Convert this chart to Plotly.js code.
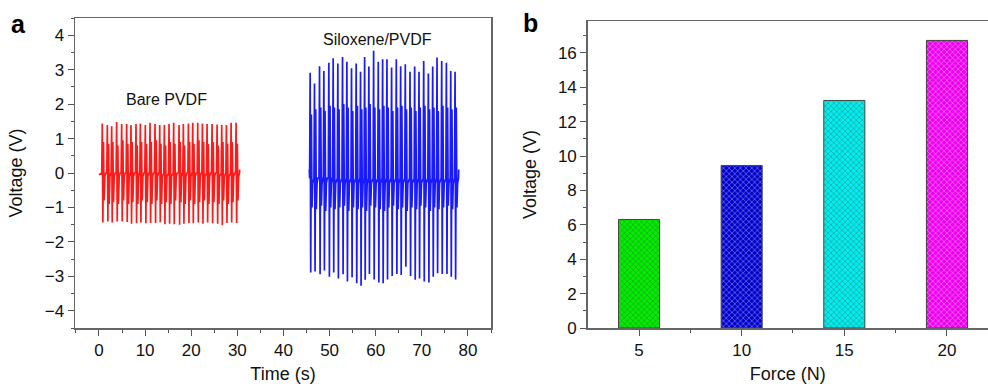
<!DOCTYPE html>
<html>
<head>
<meta charset="utf-8">
<script src="https://cdn.plot.ly/plotly-3.0.1.min.js"></script>
<style>html,body{margin:0;padding:0;background:#fff;}#chart{width:988px;height:384px;}</style>
</head>
<body>
<div id="chart"></div>
<script>
// ---- Panel a: voltage signals (peak times and peak voltages) ----
const redPeakTimes = [0.72,1.81,2.75,3.83,4.92,6.00,6.94,8.03,8.97,10.05,11.07,12.15,13.17,14.18,15.19,16.20,17.36,18.30,19.39,20.33,21.41,22.43,23.44,24.52,25.61,26.62,27.63,28.65,29.73];
const redPosPeaks = [1.44,1.39,1.36,1.48,1.42,1.42,1.39,1.42,1.44,1.39,1.46,1.42,1.39,1.39,1.42,1.46,1.39,1.42,1.44,1.46,1.46,1.44,1.42,1.42,1.41,1.39,1.39,1.46,1.46];
const redNegPeaks = [-1.44,-1.41,-1.44,-1.41,-1.41,-1.42,-1.47,-1.46,-1.44,-1.46,-1.45,-1.45,-1.43,-1.49,-1.47,-1.49,-1.50,-1.47,-1.45,-1.46,-1.44,-1.47,-1.44,-1.46,-1.47,-1.52,-1.45,-1.44,-1.45];
const redSecPos = [0.9,0.85,0.9,0.8,0.95,0.85,0.9,0.8,0.9,0.85,0.9,0.95,0.85,0.8,0.9,0.85,0.9,0.8,0.9,0.85,0.95,0.9,0.85,0.9,0.8,0.9,0.85,0.9,0.85];
const redSecNeg = [-0.8,-0.9,-0.85,-0.9,-0.8,-0.9,-0.85,-0.9,-0.8,-0.85,-0.9,-0.8,-0.9,-0.85,-0.9,-0.8,-0.85,-0.9,-0.8,-0.9,-0.85,-0.8,-0.9,-0.85,-0.9,-0.8,-0.9,-0.85,-0.8];
const redBase = [0.0, -0.1];
const redStart = [0.0, -0.05];
const redEnd = [30.5, 0.1];

const bluePeakTimes = [45.79,46.73,47.82,48.76,49.84,50.78,51.79,52.81,53.75,54.76,55.77,56.71,57.60,58.52,59.55,60.56,61.50,62.44,63.45,64.47,65.41,66.42,67.44,68.45,69.39,70.41,71.42,72.36,73.30,74.31,75.33,76.27,77.21];
const bluePosPeaks = [2.91,2.60,3.10,2.96,3.20,3.33,3.18,3.37,3.23,3.04,3.18,2.94,3.37,3.09,3.55,3.23,3.30,3.30,3.06,3.30,3.10,3.16,2.94,3.09,2.94,3.25,2.89,3.09,3.35,3.25,3.20,2.96,2.94];
const blueNegPeaks = [-2.89,-2.86,-2.94,-2.83,-3.01,-2.89,-3.06,-2.94,-3.15,-3.03,-3.20,-3.27,-3.10,-2.93,-3.09,-3.18,-3.20,-3.09,-2.99,-2.93,-2.96,-2.72,-2.99,-3.10,-3.06,-3.15,-3.18,-3.01,-2.91,-2.93,-2.93,-3.01,-3.09];
const blueSecPos = [1.7,1.85,1.9,1.8,1.95,1.9,1.85,2.0,1.9,1.8,1.95,1.85,1.9,2.0,1.9,1.85,1.95,1.9,1.8,1.9,1.95,1.85,1.9,1.8,1.9,1.95,1.85,1.9,1.8,1.95,1.9,1.85,1.9];
const blueSecNeg = [-1.0,-1.05,-0.95,-1.1,-1.0,-1.05,-1.0,-0.95,-1.1,-1.0,-1.05,-1.0,-1.1,-0.95,-1.0,-1.05,-1.1,-1.0,-0.95,-1.05,-1.0,-1.1,-1.0,-1.05,-0.95,-1.0,-1.1,-1.0,-1.05,-1.0,-0.95,-1.05,-1.0];
const blueBase = [-0.15, -0.3];
const blueStart = [45.6, 0.1];
const blueEnd = [78.0, 0.1];

// ---- Panel b: bar chart ----
const forces = [5, 10, 15, 20];
const forceVoltages = [6.31, 9.45, 13.23, 16.72];
const barColors = ['#00ee00', '#0000cc', '#00eeee', '#ee00ee'];
const barHatch = ['#007000', '#000060', '#008080', '#800080'];

function buildWave(start, end, times, pos, neg, sp, sn, base) {
  const x = [start[0]], y = [start[1]];
  for (let i = 0; i < times.length; i++) {
    const t = times[i];
    x.push(t - 0.12, t, t + 0.12, t + 0.26, t + 0.40, t + 0.55, t + 0.75);
    y.push(base[0], pos[i], neg[i], sp[i], sn[i], base[1], base[0]);
  }
  x.push(end[0]); y.push(end[1]);
  return {x, y};
}

const red = buildWave(redStart, redEnd, redPeakTimes, redPosPeaks, redNegPeaks, redSecPos, redSecNeg, redBase);
const blue = buildWave(blueStart, blueEnd, bluePeakTimes, bluePosPeaks, blueNegPeaks, blueSecPos, blueSecNeg, blueBase);

const FONT = 'Liberation Sans, Arial, Helvetica, sans-serif';
const W = 988, H = 384;

const traces = [
  {x: red.x, y: red.y, type: 'scatter', mode: 'lines', line: {color: '#ff1a1a', width: 1.7}, xaxis: 'x', yaxis: 'y', hoverinfo: 'skip'},
  {x: blue.x, y: blue.y, type: 'scatter', mode: 'lines', line: {color: '#1a1aff', width: 1.7}, xaxis: 'x', yaxis: 'y', hoverinfo: 'skip'},
  {x: forces, y: forceVoltages, type: 'bar', width: 2, xaxis: 'x2', yaxis: 'y2',
   marker: {color: barColors, line: {color: '#444', width: 1},
            pattern: {shape: 'x', size: 4, solidity: 0.3, fgcolor: barHatch, bgcolor: barColors, fillmode: 'overlay'}}}
];

const axisCommon = {
  showline: true, linecolor: '#666', linewidth: 1.5, showgrid: false, zeroline: false,
  ticks: 'outside', ticklen: 6, tickwidth: 1, tickcolor: '#555',
  tickfont: {family: FONT, size: 17, color: '#111'}, automargin: false, fixedrange: true
};

const layout = {
  width: W, height: H,
  margin: {l: 0, r: 0, t: 0, b: 0},
  paper_bgcolor: '#fff', plot_bgcolor: '#fff',
  showlegend: false,
  font: {family: FONT, color: '#111'},
  xaxis: Object.assign({}, axisCommon, {
    domain: [75 / W, 491 / W], range: [-5.2, 85], tick0: 0, dtick: 10, mirror: true, anchor: 'y',
    minor: {ticks: 'outside', ticklen: 3, dtick: 5, tick0: 0, tickcolor: '#555'},
    title: {text: 'Time (s)', font: {family: FONT, size: 18, color: '#111'}, standoff: 9}
  }),
  yaxis: Object.assign({}, axisCommon, {
    domain: [1 - 328 / H, 1 - 18 / H], range: [-4.5, 4.5], tick0: 0, dtick: 1, mirror: true, anchor: 'x',
    minor: {ticks: 'outside', ticklen: 3, dtick: 0.5, tick0: 0, tickcolor: '#555'},
    tickformat: 'd',
    title: {text: 'Voltage (V)', font: {family: FONT, size: 18, color: '#111'}, standoff: 17}
  }),
  xaxis2: Object.assign({}, axisCommon, {
    domain: [587.7 / W, 1], range: [2.5, 22.0], tickvals: forces, mirror: true, anchor: 'y2',
    minor: {ticks: 'outside', ticklen: 3, tickvals: [7.5, 12.5, 17.5], tickcolor: '#555'},
    title: {text: 'Force (N)', font: {family: FONT, size: 18, color: '#111'}, standoff: 9}
  }),
  yaxis2: Object.assign({}, axisCommon, {
    domain: [1 - 328 / H, 1 - 21 / H], range: [0, 17.85], tick0: 0, dtick: 2, mirror: false, anchor: 'x2',
    minor: {ticks: 'outside', ticklen: 3, dtick: 1, tick0: 0, tickcolor: '#555'},
    title: {text: 'Voltage (V)', font: {family: FONT, size: 18, color: '#111'}, standoff: 16}
  }),
  annotations: [
    {text: 'Bare PVDF', x: 14.7, y: 2.12, xref: 'x', yref: 'y', showarrow: false, font: {family: FONT, size: 16, color: '#111'}},
    {text: 'Siloxene/PVDF', x: 60.3, y: 3.88, xref: 'x', yref: 'y', showarrow: false, font: {family: FONT, size: 16, color: '#111'}},
    {text: '<b>a</b>', x: 18 / W, y: 1 - 24 / H, xref: 'paper', yref: 'paper', xanchor: 'center', yanchor: 'middle', showarrow: false, font: {family: FONT, size: 25, color: '#000'}},
    {text: '<b>b</b>', x: 530 / W, y: 1 - 23 / H, xref: 'paper', yref: 'paper', xanchor: 'center', yanchor: 'middle', showarrow: false, font: {family: FONT, size: 25, color: '#000'}}
  ]
};

Plotly.newPlot('chart', traces, layout, {displayModeBar: false, staticPlot: true});
</script>
</body>
</html>
